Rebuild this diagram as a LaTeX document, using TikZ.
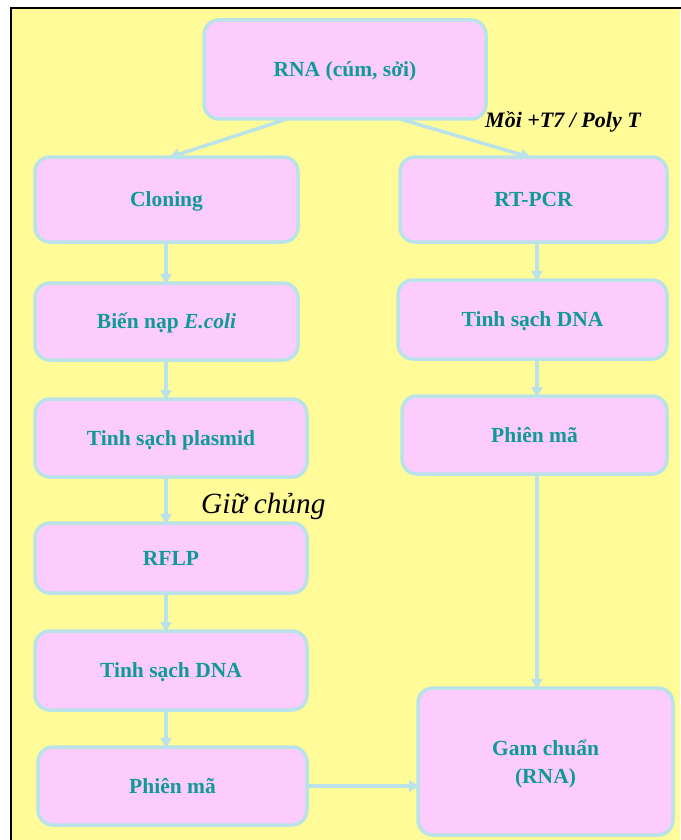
\documentclass[tikz,border=0pt]{standalone}
\usepackage{fontspec}
\setmainfont{Liberation Serif}
\usetikzlibrary{arrows.meta}
\definecolor{pagebg}{RGB}{255,251,153}
\definecolor{boxfill}{RGB}{252,204,252}
\definecolor{boxline}{RGB}{185,227,232}
\definecolor{boxtext}{RGB}{15,153,153}
\tikzset{
  stepbox/.style={draw=boxline, line width=3.5pt, fill=boxfill, rounded corners=15pt,
    text=boxtext, font=\fontsize{21.5}{28}\selectfont\bfseries, align=center,
    text height=16pt, text depth=2pt, inner sep=0pt, outer sep=0pt},
  twoline/.style={text height=44pt, text depth=-2pt},
  conn/.style={draw=boxline, line width=3.5pt,
    -{Triangle[length=10pt,width=11pt]}, shorten >=-1pt},
}
\newcommand{\boxat}[7][]{% options, name, left, top, right, bottom, text
  \node[stepbox, minimum width={(#5)-(#3)}, minimum height={(#6)-(#4)}, #1]
    (#2) at ({((#3)+(#5))/2},{((#4)+(#6))/2}) {#7};}
\begin{document}
\begin{tikzpicture}[x=1pt,y=-1pt]
  \useasboundingbox (0,0) rectangle (680,840);
  \fill[white] (0,0) rectangle (680,840);
  \fill[pagebg] (11,8) rectangle (680,840);
  \draw[black, line width=2pt] (11,841) -- (11,8) -- (681,8);

  \boxat{rna}{204}{20}{486}{119}{RNA (cúm, sởi)}
  \boxat{clon}{35}{157}{298}{242}{Cloning}
  \boxat{rtpcr}{400}{157}{667}{242}{RT-PCR}
  \boxat{bien}{35}{283}{298}{360}{Biến nạp \textit{E.coli}}
  \boxat{tsdr}{398}{280}{667}{359}{Tinh sạch DNA}
  \boxat{plas}{35}{399}{307}{477}{Tinh sạch plasmid}
  \boxat{phr}{402}{396}{667}{474}{Phiên mã}
  \boxat{rflp}{35}{523}{307}{593}{RFLP}
  \boxat{tsdl}{35}{631}{307}{710}{Tinh sạch DNA}
  \boxat{phl}{38}{747}{307}{825}{Phiên mã}
  \boxat[twoline]{gam}{418}{688}{673}{835}{Gam chuẩn\\(RNA)}

  % x positions of the two vertical connector lines
  \coordinate (lx) at (166,0);
  \coordinate (rx) at (537,0);

  % split from the sample
  \draw[conn] ([xshift=-58pt]rna.south) -- ([xshift=4pt]clon.north);
  \draw[conn] ([xshift=55pt]rna.south) -- ([xshift=-4pt]rtpcr.north);

  % left column
  \draw[conn] (clon.south -| lx) -- (bien.north -| lx);
  \draw[conn] (bien.south -| lx) -- (plas.north -| lx);
  \draw[conn] (plas.south -| lx) -- (rflp.north -| lx);
  \draw[conn] (rflp.south -| lx) -- (tsdl.north -| lx);
  \draw[conn] (tsdl.south -| lx) -- (phl.north -| lx);
  \draw[conn] (phl.east) -- (phl.east -| gam.west);

  % right column
  \draw[conn] (rtpcr.south -| rx) -- (tsdr.north -| rx);
  \draw[conn] (tsdr.south -| rx) -- (phr.north -| rx);
  \draw[conn] (phr.south -| rx) -- (gam.north -| rx);

  % annotations
  \node[anchor=base west, inner sep=0pt, font=\fontsize{22}{26}\selectfont\bfseries\itshape]
    (primer) at (485,128) {Mồi +T7 / Poly T};
  \node[anchor=base west, inner sep=0pt, font=\fontsize{29.3}{34}\selectfont\itshape]
    (keep) at (201,513) {Giữ chủng};
\end{tikzpicture}
\end{document}
